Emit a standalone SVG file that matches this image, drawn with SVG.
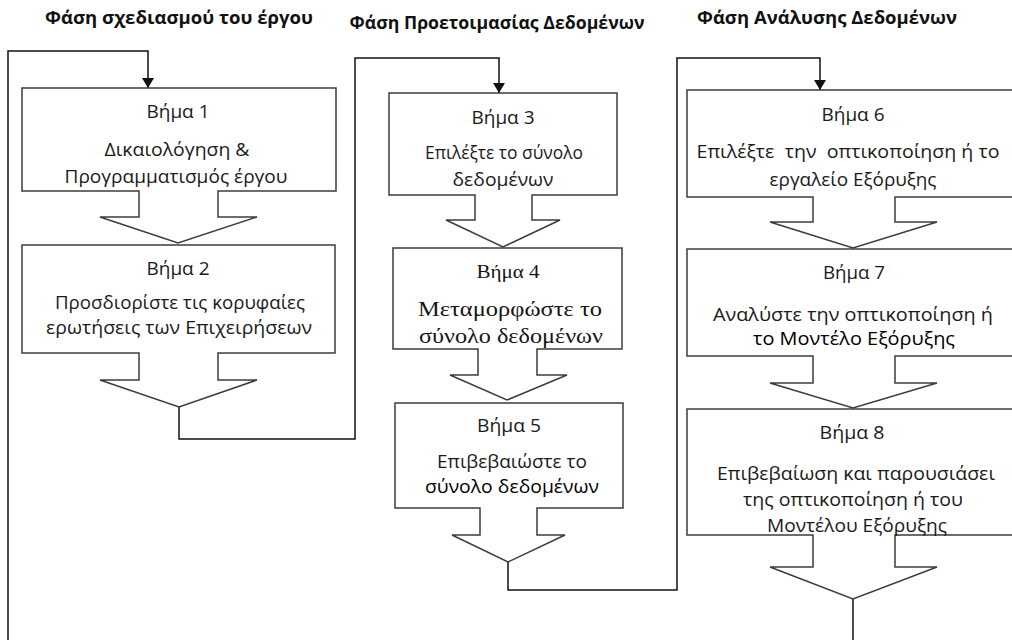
<svg xmlns="http://www.w3.org/2000/svg" width="1012" height="640" viewBox="0 0 1012 640">
  <style>
    .bg { fill: #ffffff; }
    .step { fill: #ffffff; stroke: #3c3c3c; stroke-width: 1.5; stroke-linejoin: miter; }
    .link { fill: none; stroke: #111111; stroke-width: 1.5; }
    .title { font-family: "Open Sans", "Liberation Sans", sans-serif; font-weight: bold; font-size: 17.5px; fill: #111111; text-anchor: middle; }
    .t { font-family: "Open Sans", "Liberation Sans", sans-serif; font-size: 17.5px; fill: #1a1a1a; text-anchor: middle; }
    .dark { fill: #000000; }
    .serif { font-family: "Liberation Serif", "Times New Roman", serif; fill: #141414; text-anchor: middle; }
  </style>
  <defs>
    <marker id="head" markerUnits="userSpaceOnUse" markerWidth="12" markerHeight="14" refX="10" refY="6" orient="auto">
      <path d="M0,0 L10,6 L0,12 Z" fill="#111111"/>
    </marker>
  </defs>

  <rect class="bg" x="0" y="0" width="1012" height="640"/>

  <!-- phase headings -->
  <g id="headings">
    <text class="title" x="179" y="24" textLength="268" lengthAdjust="spacingAndGlyphs">Φάση σχεδιασμού του έργου</text>
    <text class="title" x="497" y="29" textLength="295" lengthAdjust="spacingAndGlyphs">Φάση Προετοιμασίας Δεδομένων</text>
    <text class="title" x="827" y="24" textLength="260" lengthAdjust="spacingAndGlyphs">Φάση Ανάλυσης Δεδομένων</text>
  </g>

  <!-- connectors between phases -->
  <g id="connectors">
    <polyline class="link" points="8,640 8,51 148,51 148,88" marker-end="url(#head)"/>
    <polyline class="link" points="179,407 179,439 355,439 355,58 499,58 499,93" marker-end="url(#head)"/>
    <polyline class="link" points="508,562 508,590 677,590 677,58 820,58 820,90" marker-end="url(#head)"/>
    <polyline class="link" points="853,599 853,640"/>
  </g>

  <!-- each step: box with its block arrow below -->
  <g id="step1">
    <path class="step" d="M22,88 H336 V191 H218 V217 H257 L178,243 L100,217 H139 V191 H22 Z"/>
    <text class="t" x="178" y="118" textLength="63" lengthAdjust="spacingAndGlyphs">Βήμα 1</text>
    <text class="t" x="177" y="156" textLength="145" lengthAdjust="spacingAndGlyphs">Δικαιολόγηση &amp;</text>
    <text class="t" x="176" y="183" textLength="223" lengthAdjust="spacingAndGlyphs">Προγραμματισμός έργου</text>
  </g>

  <g id="step2">
    <path class="step" d="M22,245 H335 V353 H218 V380 H257 L179,407 L100,380 H139 V353 H22 Z"/>
    <text class="t" x="178" y="275" textLength="63" lengthAdjust="spacingAndGlyphs">Βήμα 2</text>
    <text class="t" x="180" y="309" textLength="250" lengthAdjust="spacingAndGlyphs">Προσδιορίστε τις κορυφαίες</text>
    <text class="t" x="179" y="334" textLength="266" lengthAdjust="spacingAndGlyphs">ερωτήσεις των Επιχειρήσεων</text>
  </g>

  <g id="step3">
    <path class="step" d="M389,93 H617 V195 H532 V220 H560 L503,247 L446,220 H475 V195 H389 Z"/>
    <text class="t" x="503" y="124" textLength="63" lengthAdjust="spacingAndGlyphs">Βήμα 3</text>
    <text class="t" x="504" y="159" textLength="158" lengthAdjust="spacingAndGlyphs">Επιλέξτε το σύνολο</text>
    <text class="t" x="503" y="186" textLength="101" lengthAdjust="spacingAndGlyphs">δεδομένων</text>
  </g>

  <g id="step4">
    <path class="step" d="M393,248 H622 V349 H537 V375 H567 L507,400 L450,375 H478 V349 H393 Z"/>
    <text class="serif" x="508" y="278" font-size="18" textLength="63" lengthAdjust="spacingAndGlyphs">Βήμα 4</text>
    <text class="serif" x="510" y="316" font-size="21" textLength="184" lengthAdjust="spacingAndGlyphs">Μεταμορφώστε το</text>
    <text class="serif" x="511" y="343" font-size="21" textLength="184" lengthAdjust="spacingAndGlyphs">σύνολο δεδομένων</text>
  </g>

  <g id="step5">
    <path class="step" d="M395,403 H623 V508 H537 V535 H565 L508,562 L452,535 H480 V508 H395 Z"/>
    <text class="t" x="509" y="432" textLength="64" lengthAdjust="spacingAndGlyphs">Βήμα 5</text>
    <text class="t" x="512" y="468" textLength="150" lengthAdjust="spacingAndGlyphs">Επιβεβαιώστε το</text>
    <text class="t dark" x="512" y="493" textLength="174" lengthAdjust="spacingAndGlyphs">σύνολο δεδομένων</text>
  </g>

  <g id="step6">
    <path class="step" d="M687,90 H1020 V197 H895 V222 H937 L853,248 L770,222 H813 V197 H687 Z"/>
    <text class="t" x="853" y="121" textLength="63" lengthAdjust="spacingAndGlyphs">Βήμα 6</text>
    <text class="t" x="848" y="158" textLength="303" lengthAdjust="spacingAndGlyphs" xml:space="preserve">Επιλέξτε  την  οπτικοποίηση ή το</text>
    <text class="t" x="853" y="186" textLength="167" lengthAdjust="spacingAndGlyphs">εργαλείο Εξόρυξης</text>
  </g>

  <g id="step7">
    <path class="step" d="M687,249 H1020 V356 H895 V383 H937 L853,408 L770,383 H813 V356 H687 Z"/>
    <text class="t" x="854" y="279" textLength="62" lengthAdjust="spacingAndGlyphs">Βήμα 7</text>
    <text class="t" x="853" y="321" textLength="280" lengthAdjust="spacingAndGlyphs">Αναλύστε την οπτικοποίηση ή</text>
    <text class="t dark" x="854" y="345" textLength="202" lengthAdjust="spacingAndGlyphs">το Μοντέλο Εξόρυξης</text>
  </g>

  <g id="step8">
    <path class="step" d="M687,409 H1020 V535 H895 V567 H937 L853,599 L770,567 H813 V535 H687 Z"/>
    <text class="t" x="852" y="439" textLength="65" lengthAdjust="spacingAndGlyphs">Βήμα 8</text>
    <text class="t" x="856" y="480" textLength="278" lengthAdjust="spacingAndGlyphs">Επιβεβαίωση και παρουσιάσει</text>
    <text class="t" x="853" y="506" textLength="220" lengthAdjust="spacingAndGlyphs">της οπτικοποίηση ή του</text>
    <text class="t" x="857" y="532" textLength="180" lengthAdjust="spacingAndGlyphs">Μοντέλου Εξόρυξης</text>
  </g>
</svg>
